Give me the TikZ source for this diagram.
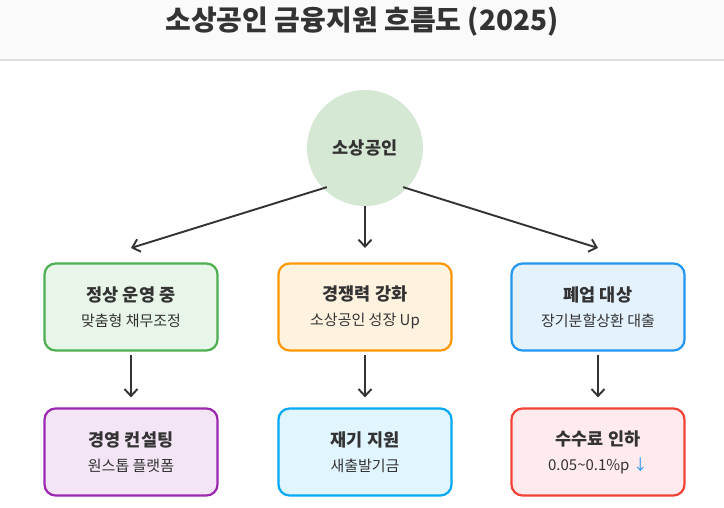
\documentclass[tikz,border=0pt]{standalone}
\usepackage{fontspec}
\setmainfont{Noto Sans CJK KR}
\usetikzlibrary{arrows.meta}
\definecolor{tg}{HTML}{333333}
\definecolor{cg}{HTML}{D5E8D4}
\definecolor{f1}{HTML}{E8F5E9}\definecolor{b1}{HTML}{4CAF50}
\definecolor{f2}{HTML}{FFF3E0}\definecolor{b2}{HTML}{FF9800}
\definecolor{f3}{HTML}{E3F2FD}\definecolor{b3}{HTML}{2196F3}
\definecolor{f4}{HTML}{F3E5F5}\definecolor{b4}{HTML}{9C27B0}
\definecolor{f5}{HTML}{E1F5FE}\definecolor{b5}{HTML}{03A9F4}
\definecolor{f6}{HTML}{FFEBEE}\definecolor{b6}{HTML}{F44336}
\tikzset{
 box/.style={rounded corners=11pt,line width=2.2pt,minimum width=173pt,minimum height=87pt,align=center,text=tg,inner sep=0pt},
 arr/.style={draw=tg,line width=1.9pt,-{Straight Barb[length=7pt,width=13pt]}}
}
\newcommand{\bx}[2]{{\fontsize{17.5}{22}\selectfont\bfseries #1}\\[10pt]{\fontsize{15}{18}\selectfont #2}}
\begin{document}
\begin{tikzpicture}[x=1pt,y=-1pt]
\useasboundingbox[fill=white] (0,0) rectangle (724,508);
\fill[fill=gray!4] (0,0) rectangle (724,59);
\draw[gray!25,line width=2pt] (0,60) -- (724,60);
\node[text=tg,font=\fontsize{28}{32}\selectfont\bfseries] (title) at (362,22) {소상공인 금융지원 흐름도 (2025)};
\node[circle,fill=cg,minimum size=116pt,inner sep=0pt,text=tg,font=\fontsize{17.5}{22}\selectfont\bfseries] (c) at (365,148) {소상공인};
\node[box,draw=b1,fill=f1] (n1) at (131,307) {\bx{정상 운영 중}{맞춤형 채무조정}};
\node[box,draw=b2,fill=f2] (n2) at (365,307) {\bx{경쟁력 강화}{소상공인 성장 Up}};
\node[box,draw=b3,fill=f3] (n3) at (598,307) {\bx{폐업 대상}{장기분할상환 대출}};
\node[box,draw=b4,fill=f4] (m1) at (131,452) {\bx{경영 컨설팅}{원스톱 플랫폼}};
\node[box,draw=b5,fill=f5] (m2) at (365,452) {\bx{재기 지원}{새출발기금}};
\node[box,draw=b6,fill=f6] (m3) at (598,452) {\bx{수수료 인하}{0.05\textasciitilde0.1\%p {\color{b3}↓}}};
\coordinate (t1) at (131,248);
\coordinate (t3) at (598,248);
\draw[arr] (c.225) ++(3,-2) -- (t1);
\draw[arr] (c.south) -- (365,248);
\draw[arr] (c.315) ++(-3,-2) -- (t3);
\draw[arr] (n1.south) ++(0,3) -- ([yshift=10pt]m1.north);
\draw[arr] (n2.south) ++(0,3) -- ([yshift=10pt]m2.north);
\draw[arr] (n3.south) ++(0,3) -- ([yshift=10pt]m3.north);
\end{tikzpicture}
\end{document}
